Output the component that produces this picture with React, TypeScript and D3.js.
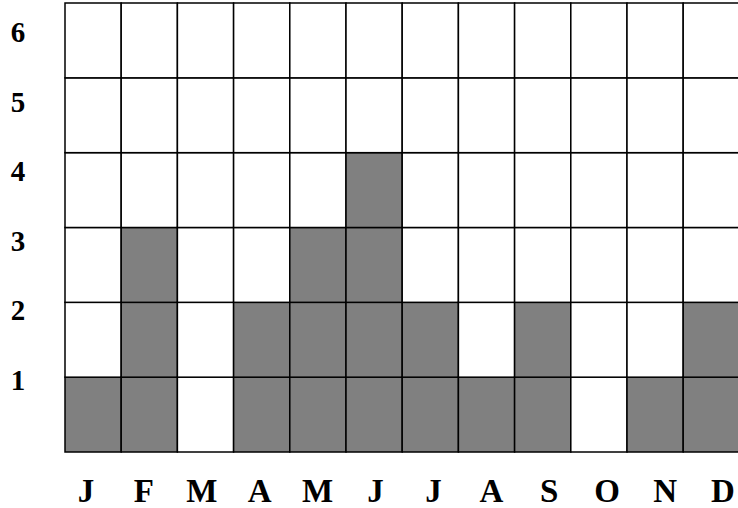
import * as d3 from 'd3';
import * as React from 'react';

// months shown along the bottom
const months: string[] = ['J', 'F', 'M', 'A', 'M', 'J', 'J', 'A', 'S', 'O', 'N', 'D'];
// number of filled cells per month
const counts: number[] = [1, 3, 0, 2, 3, 4, 2, 1, 2, 0, 1, 2];
// row labels
const levels: number[] = [1, 2, 3, 4, 5, 6];

const width = 738;
const height = 508;

export default function App() {
    const x = d3.scaleBand<number>()
        .domain(d3.range(months.length))
        .range([65, 65 + 12 * 56.2])
        .paddingInner(0)
        .paddingOuter(0);

    const y = d3.scaleLinear()
        .domain([0, levels.length])
        .range([452, 3]);

    // label positions (text sits a bit off the cell centres in the original)
    const xLabel = d3.scalePoint<number>()
        .domain(d3.range(months.length))
        .range([86, 723]);

    const yLabel = d3.scaleLinear()
        .domain([1, 6])
        .range([390, 42]);

    const cells: { col: number; row: number; filled: boolean }[] = [];
    months.forEach((_, col) => {
        levels.forEach((lv) => {
            cells.push({ col, row: lv, filled: lv <= counts[col] });
        });
    });

    const rowH = y(0) - y(1);

    return (
        <svg
            width={width}
            height={height}
            style={{ position: 'absolute', left: 0, top: 0, background: '#fff' }}
        >
            <g>
                {cells.map((c, i) => (
                    <rect
                        key={i}
                        x={x(c.col)}
                        y={y(c.row)}
                        width={x.bandwidth()}
                        height={rowH}
                        fill={c.filled ? '#808080' : '#ffffff'}
                        stroke="#000"
                        strokeWidth={1.5}
                    />
                ))}
            </g>
            <g
                fontFamily="'Times New Roman', 'Liberation Serif', serif"
                fontWeight="bold"
                fill="#000"
            >
                {levels.map((lv) => (
                    <text key={lv} x={18} y={yLabel(lv)} fontSize={29} textAnchor="middle">
                        {lv}
                    </text>
                ))}
                {months.map((m, i) => (
                    <text key={i} x={xLabel(i)} y={502} fontSize={33} textAnchor="middle">
                        {m}
                    </text>
                ))}
            </g>
        </svg>
    );
}
